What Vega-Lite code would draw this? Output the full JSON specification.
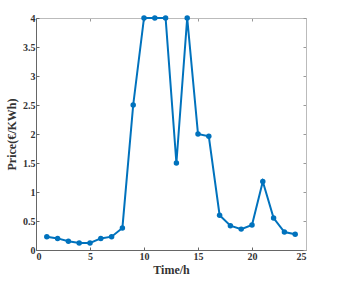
{
  "$schema": "https://vega.github.io/schema/vega-lite/v6.json",
  "width": 270,
  "height": 232,
  "autosize": {"type": "none"},
  "padding": {"left": 36, "top": 18, "right": 39, "bottom": 36},
  "background": "white",
  "data": {"values": [
    {"t": 1, "p": 0.23}, {"t": 2, "p": 0.2}, {"t": 3, "p": 0.15}, {"t": 4, "p": 0.12},
    {"t": 5, "p": 0.12}, {"t": 6, "p": 0.2}, {"t": 7, "p": 0.23}, {"t": 8, "p": 0.38},
    {"t": 9, "p": 2.5}, {"t": 10, "p": 4}, {"t": 11, "p": 4}, {"t": 12, "p": 4},
    {"t": 13, "p": 1.5}, {"t": 14, "p": 4}, {"t": 15, "p": 2.0}, {"t": 16, "p": 1.96},
    {"t": 17, "p": 0.6}, {"t": 18, "p": 0.42}, {"t": 19, "p": 0.36}, {"t": 20, "p": 0.43},
    {"t": 21, "p": 1.18}, {"t": 22, "p": 0.55}, {"t": 23, "p": 0.31}, {"t": 24, "p": 0.27}
  ]},
  "config": {
    "view": {"stroke": "#bbbbbb", "strokeWidth": 1},
    "axis": {
      "grid": false,
      "labelFont": "Liberation Serif",
      "titleFont": "Liberation Serif",
      "labelFontSize": 10,
      "labelFontWeight": "bold",
      "titleFontSize": 12,
      "titleFontWeight": "bold",
      "labelColor": "#333333",
      "titleColor": "#333333",
      "domainColor": "#666666",
      "tickColor": "#666666",
      "tickSize": -3
    }
  },
  "resolve": {"axis": {"x": "independent", "y": "independent"}},
  "layer": [
    {
      "mark": {"type": "line", "color": "#0072BD", "strokeWidth": 2, "point": {"filled": true, "size": 30, "color": "#0072BD"}},
      "encoding": {
        "x": {"field": "t", "type": "quantitative", "scale": {"domain": [0, 25], "nice": false},
          "axis": {"title": "Time/h", "values": [0, 5, 10, 15, 20, 25], "format": "~g", "labelPadding": 4, "titlePadding": 3}},
        "y": {"field": "p", "type": "quantitative", "scale": {"domain": [0, 4], "nice": false},
          "axis": {"title": "Price(€/KWh)", "values": [0, 0.5, 1, 1.5, 2, 2.5, 3, 3.5, 4], "format": "~g", "labelPadding": 4, "titlePadding": 4}}
      }
    },
    {
      "mark": {"type": "line", "opacity": 0},
      "encoding": {
        "x": {"field": "t", "type": "quantitative", "scale": {"domain": [0, 25], "nice": false},
          "axis": {"orient": "top", "title": null, "labels": false, "values": [0, 5, 10, 15, 20, 25], "domainColor": "#bbbbbb", "tickColor": "#999999"}},
        "y": {"field": "p", "type": "quantitative", "scale": {"domain": [0, 4], "nice": false},
          "axis": {"orient": "right", "title": null, "labels": false, "values": [0, 0.5, 1, 1.5, 2, 2.5, 3, 3.5, 4], "domainColor": "#bbbbbb", "tickColor": "#999999"}}
      }
    }
  ]
}
